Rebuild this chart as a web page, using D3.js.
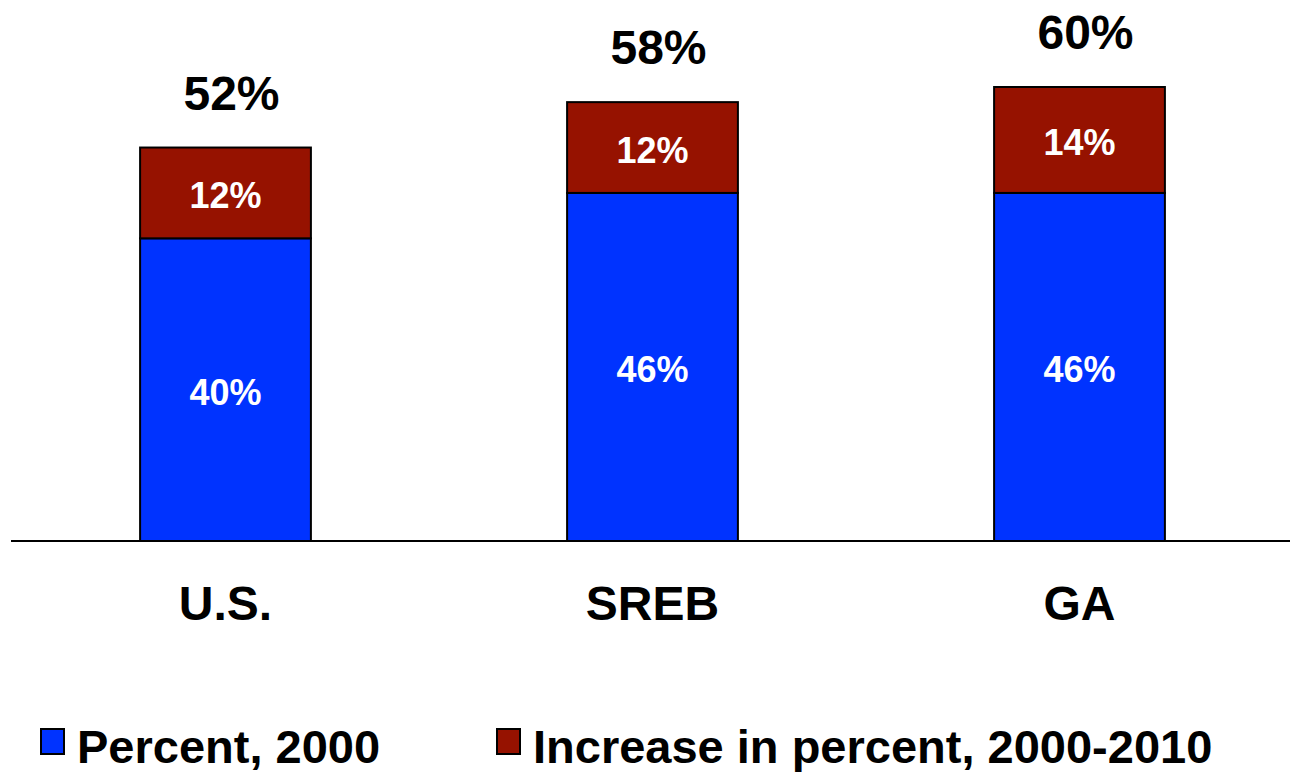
<!DOCTYPE html>
<html>
<head>
<meta charset="utf-8">
<script src="https://cdn.jsdelivr.net/npm/d3@7"></script>
<style>
  body { margin: 0; background: #fff; }
  text { font-family: Arial, "Liberation Sans", sans-serif; font-weight: bold; }
</style>
</head>
<body>
<div id="chart"></div>
<script>
// data
var regions = ["U.S.", "SREB", "GA"];
var percent2000 = [40, 46, 46];
var increase = [12, 12, 14];
var totals = [52, 58, 60];
var seriesNames = ["Percent, 2000", "Increase in percent, 2000-2010"];
var seriesColors = ["#0033ff", "#961200"];

var svgWidth = 1290;
var svgHeight = 772;

var svg = d3.select("#chart")
  .append("svg")
  .attr("width", svgWidth)
  .attr("height", svgHeight);

var baseline = 541;

var xScale = d3.scaleBand()
  .domain(regions)
  .range([12, 1293])
  .paddingInner(0.6)
  .paddingOuter(0.3);

var yScale = d3.scaleLinear()
  .domain([0, 60])
  .range([baseline, 87]);

// stack the two series
var rows = regions.map(function(r, i) {
  return { region: r, base: percent2000[i], inc: increase[i], total: totals[i] };
});
var stacked = d3.stack().keys(["base", "inc"])(rows);

var layers = svg.selectAll("g.layer")
  .data(stacked)
  .enter()
  .append("g")
  .attr("class", "layer")
  .attr("fill", (d, i) => seriesColors[i]);

layers.selectAll("rect")
  .data(d => d)
  .enter()
  .append("rect")
  .attr("x", d => xScale(d.data.region))
  .attr("y", d => yScale(d[1]))
  .attr("width", xScale.bandwidth())
  .attr("height", d => yScale(d[0]) - yScale(d[1]))
  .attr("stroke", "#000")
  .attr("stroke-width", 2);

// segment labels
layers.selectAll("text")
  .data(d => d)
  .enter()
  .append("text")
  .attr("x", d => xScale(d.data.region) + xScale.bandwidth() / 2)
  .attr("y", d => (yScale(d[0]) + yScale(d[1])) / 2)
  .attr("dy", "0.42em")
  .attr("text-anchor", "middle")
  .attr("fill", "#fff")
  .attr("font-size", "36px")
  .text(d => (d[1] - d[0]) + "%");

// totals above bars
svg.selectAll("text.total")
  .data(rows)
  .enter()
  .append("text")
  .attr("class", "total")
  .attr("x", d => xScale(d.region) + xScale.bandwidth() / 2 + 6)
  .attr("y", d => yScale(d.total) - 38)
  .attr("text-anchor", "middle")
  .attr("font-size", "48px")
  .attr("fill", "#000")
  .text(d => d.total + "%");

// baseline axis
var xAxis = d3.axisBottom(xScale).tickSize(0).tickPadding(65);
var axisG = svg.append("g")
  .attr("transform", `translate(0, ${baseline})`)
  .call(xAxis);
axisG.select(".domain").remove();
axisG.selectAll("text")
  .attr("font-size", "48px")
  .attr("fill", "#000")
  .attr("dy", "0.3em");

svg.append("line")
  .attr("x1", 11)
  .attr("x2", svgWidth)
  .attr("y1", baseline)
  .attr("y2", baseline)
  .attr("stroke", "#000")
  .attr("stroke-width", 2);

// legend
var legendX = [41, 497];
var legend = svg.selectAll("g.legend")
  .data(seriesNames)
  .enter()
  .append("g")
  .attr("class", "legend")
  .attr("transform", (d, i) => `translate(${legendX[i]}, 729)`);

legend.append("rect")
  .attr("width", 23)
  .attr("height", 25)
  .attr("fill", (d, i) => seriesColors[i])
  .attr("stroke", "#000")
  .attr("stroke-width", 2);

legend.append("text")
  .attr("x", 36)
  .attr("y", 34)
  .attr("font-size", "47px")
  .attr("fill", "#000")
  .text(d => d);
</script>
</body>
</html>
